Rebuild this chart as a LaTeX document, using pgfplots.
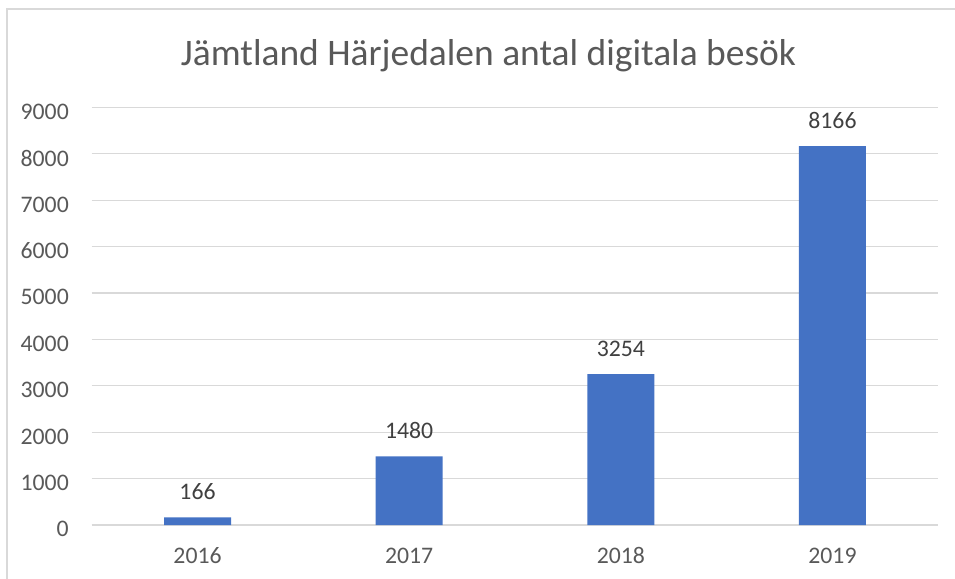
\documentclass[border=0pt]{standalone}
\usepackage{fontspec}
\setmainfont{Carlito}
\usepackage{pgfplots}
\pgfplotsset{compat=1.18}
\definecolor{barblue}{HTML}{4472C4}
\definecolor{gridgray}{HTML}{D9D9D9}
\definecolor{ticktext}{HTML}{595959}
\definecolor{labeltext}{HTML}{404040}
\begin{document}
\begin{tikzpicture}
\clip (0pt,0pt) rectangle (716.25pt,-433.5pt);
\draw[gridgray, line width=0.9pt] (5.25pt,-6.75pt) rectangle (730pt,-450pt);
\node[anchor=base, inner sep=0pt, text=ticktext, font=\fontsize{28.1pt}{33pt}\selectfont] at (366.4pt,-48.75pt) {Jämtland Härjedalen antal digitala besök};
\begin{axis}[
  at={(68.775pt,-393.75pt)}, anchor=south west,
  scale only axis,
  width=634.95pt, height=313.2pt,
  xmin=-0.5, xmax=3.5,
  ymin=0, ymax=9000,
  ytick={0,1000,...,9000},
  xtick=data,
  xticklabels={2016,2017,2018,2019},
  axis line style={draw=none},
  major tick length=0pt,
  ymajorgrids,
  grid style={gridgray, line width=0.8pt},
  /pgf/number format/assume math mode=true,
  scaled y ticks=false,
  yticklabel={\pgfmathprintnumber[fixed,1000 sep={}]{\tick}},
  ticklabel style={font=\fontsize{17.8pt}{21pt}\selectfont, text=ticktext},
  yticklabel style={anchor=east, inner sep=0pt, xshift=-17pt, yshift=-3.2pt},
  xticklabel style={anchor=base, inner sep=0pt, yshift=-28.5pt},
  nodes near coords,
  point meta=explicit symbolic,
  every node near coord/.append style={anchor=base, inner sep=0pt, yshift=13.5pt, font=\fontsize{17.8pt}{21pt}\selectfont, text=labeltext},
  clip=false,
]
\addplot[ybar, bar width=50.25pt, fill=barblue, draw=none] table[meta=v] {
x y v
0 166 166
1 1480 1480
2 3254 3254
3 8166 8166
};
\end{axis}
\end{tikzpicture}
\end{document}
